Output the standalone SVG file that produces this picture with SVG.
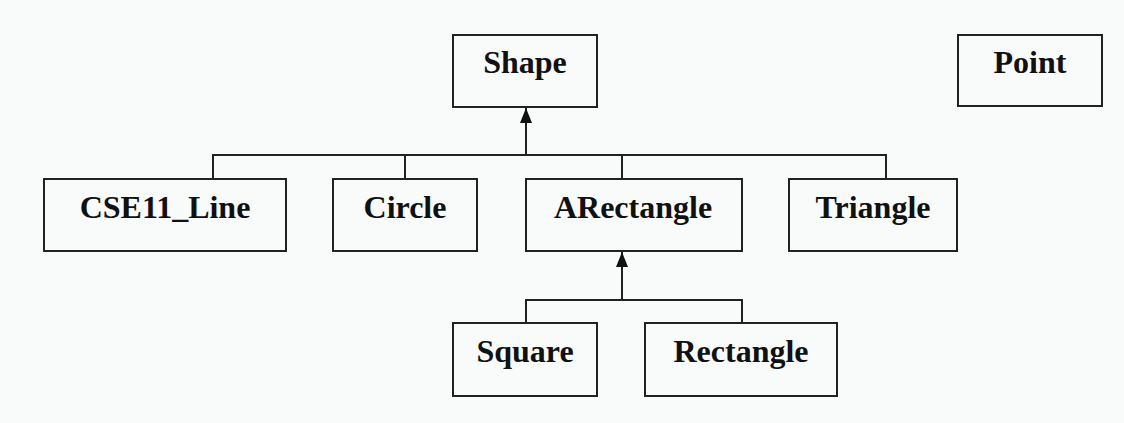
<svg xmlns="http://www.w3.org/2000/svg" width="1124" height="423" viewBox="0 0 1124 423">
<defs>
<style>
.box{fill:#f8fbfa;stroke:#222;stroke-width:2}
.lbl{font-family:"Liberation Serif","Times New Roman",serif;font-weight:bold;font-size:32px;fill:#111;text-anchor:middle}
.ln{fill:none;stroke:#222;stroke-width:2}
</style>
<marker id="arr" viewBox="0 0 15 12" refX="15" refY="6" markerWidth="15" markerHeight="12" markerUnits="userSpaceOnUse" orient="auto">
<path d="M0,0 L15,6 L0,12 Z" fill="#111"/>
</marker>
</defs>
<rect width="1124" height="423" fill="#f8fbfa"/>
<g id="connectors">
<path class="ln" d="M526,155 L526,108" marker-end="url(#arr)"/>
<path class="ln" d="M213,179 L213,155 L886,155 L886,179 M405,155 L405,179 M622,155 L622,179"/>
<path class="ln" d="M622,300 L622,252" marker-end="url(#arr)"/>
<path class="ln" d="M526,323 L526,300 L742,300 L742,323"/>
</g>
<g id="shape"><rect class="box" x="453" y="35" width="144" height="72"/><text class="lbl" x="525" y="73">Shape</text></g>
<g id="point"><rect class="box" x="958" y="35" width="144" height="71"/><text class="lbl" x="1030" y="73">Point</text></g>
<g id="cse11_line"><rect class="box" x="44" y="179" width="242" height="72"/><text class="lbl" x="165" y="218">CSE11_Line</text></g>
<g id="circle"><rect class="box" x="333" y="179" width="144" height="72"/><text class="lbl" x="405" y="218">Circle</text></g>
<g id="arectangle"><rect class="box" x="526" y="179" width="216" height="72"/><text class="lbl" x="633" y="218">ARectangle</text></g>
<g id="triangle"><rect class="box" x="789" y="179" width="168" height="72"/><text class="lbl" x="873" y="218">Triangle</text></g>
<g id="square"><rect class="box" x="453" y="323" width="144" height="73"/><text class="lbl" x="525" y="362">Square</text></g>
<g id="rectangle"><rect class="box" x="645" y="323" width="192" height="73"/><text class="lbl" x="741" y="362">Rectangle</text></g>
</svg>
